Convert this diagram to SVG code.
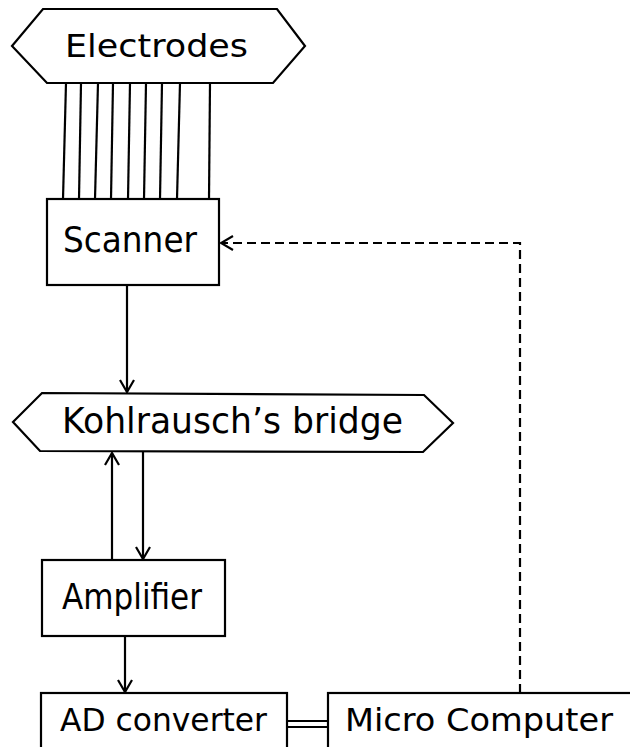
<svg xmlns="http://www.w3.org/2000/svg" width="630" height="747" viewBox="0 0 630 747">
<style>
.box{fill:#fff;stroke:#000;stroke-width:2.2}
.ln{fill:none;stroke:#000;stroke-width:2.2}
.dash{fill:none;stroke:#000;stroke-width:2.2;stroke-dasharray:9,5}
text{font-family:"DejaVu Sans","Liberation Sans",sans-serif;font-size:32px;fill:#000}
.big{font-size:35px}
</style>
<defs>
<marker id="arr" viewBox="0 0 16 16" refX="14" refY="8" markerWidth="16" markerHeight="16" markerUnits="userSpaceOnUse" orient="auto">
<path d="M2,1 L14,8 L2,15" fill="none" stroke="#000" stroke-width="2.2"/>
</marker>
</defs>
<g id="connectors">
<g id="wires">
<line class="ln" x1="66" y1="83" x2="63" y2="199"/>
<line class="ln" x1="81" y1="83" x2="79" y2="199"/>
<line class="ln" x1="98" y1="83" x2="95" y2="199"/>
<line class="ln" x1="113" y1="83" x2="111" y2="199"/>
<line class="ln" x1="130" y1="83" x2="128" y2="199"/>
<line class="ln" x1="146" y1="83" x2="144" y2="199"/>
<line class="ln" x1="162" y1="83" x2="160" y2="199"/>
<line class="ln" x1="180" y1="83" x2="177" y2="199"/>
<line class="ln" x1="210" y1="83" x2="209" y2="199"/>
</g>
<line class="ln" x1="127" y1="285" x2="127" y2="392" marker-end="url(#arr)"/>
<line class="ln" x1="112" y1="560" x2="112" y2="453" marker-end="url(#arr)"/>
<line class="ln" x1="143" y1="452" x2="143" y2="559" marker-end="url(#arr)"/>
<line class="ln" x1="125" y1="636" x2="125" y2="692" marker-end="url(#arr)"/>
<path class="dash" d="M520,693 L520,243 L221,243" marker-end="url(#arr)"/>
<line class="ln" x1="287" y1="721" x2="328" y2="721" stroke-width="1.6"/>
<line class="ln" x1="287" y1="727" x2="328" y2="727" stroke-width="1.6"/>
</g>
<g id="electrodes">
<polygon class="box" points="12,46 43,9 277,9 305,46 273,83 47,83"/>
<text x="65" y="57" textLength="183" lengthAdjust="spacingAndGlyphs">Electrodes</text>
</g>
<g id="scanner">
<rect class="box" x="47" y="199" width="172" height="86"/>
<text class="big" x="63" y="252" textLength="134" lengthAdjust="spacingAndGlyphs">Scanner</text>
</g>
<g id="bridge">
<polygon class="box" points="13,422 42,393 424,395 453,423 423,452 40,451"/>
<text class="big" x="62" y="433" textLength="341" lengthAdjust="spacingAndGlyphs">Kohlrausch’s bridge</text>
</g>
<g id="amplifier">
<rect class="box" x="42" y="560" width="183" height="76"/>
<text class="big" x="62" y="609" textLength="140" lengthAdjust="spacingAndGlyphs">Amplifier</text>
</g>
<g id="adconverter">
<rect class="box" x="41" y="693" width="246" height="70"/>
<text x="60" y="731" textLength="207" lengthAdjust="spacingAndGlyphs">AD converter</text>
</g>
<g id="microcomputer">
<rect class="box" x="328" y="693" width="320" height="70"/>
<text x="345" y="731" textLength="268" lengthAdjust="spacingAndGlyphs">Micro Computer</text>
</g>
</svg>
